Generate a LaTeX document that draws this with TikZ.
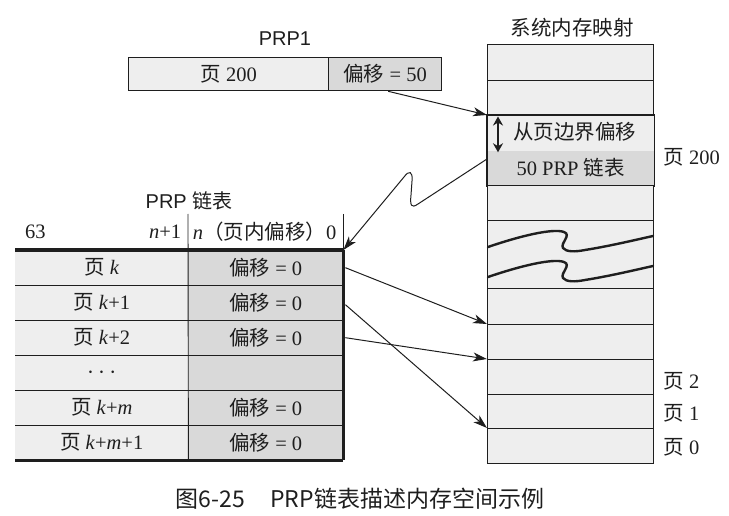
\documentclass[tikz,border=0pt]{standalone}
\usepackage{fontspec}
\setmainfont{Liberation Serif}
\setsansfont{Liberation Sans}
\newfontfamily\cjk{Noto Sans CJK SC}
\usetikzlibrary{arrows.meta,calc}
\definecolor{lightg}{HTML}{EEEEEE}
\definecolor{midg}{HTML}{D9D9D9}
\definecolor{ink}{HTML}{1E1E1E}
\begin{document}
\begin{tikzpicture}[x=1pt,y=-1pt,
  txt/.style={font=\fontsize{20.5}{23}\selectfont, text=ink, inner sep=0pt},
  hdr/.style={font=\sffamily\fontsize{20}{23}\selectfont, text=ink, inner sep=0pt},
  cell/.style={anchor=north west, inner sep=0pt, font=\fontsize{20.5}{23}\selectfont, text=ink},
  memrow/.style={cell, draw=ink, line width=1.3pt, fill=lightg, minimum width=166pt},
  arr/.style={draw=ink, line width=1pt, -{Stealth[length=14pt,width=9pt,inset=4pt]}},
  thin/.style={draw=ink, line width=0.9pt},
  sep/.style={draw=ink, line width=1.5pt},
  thick/.style={draw=ink, line width=3pt},
  wave/.style={draw=ink, line width=2.4pt, line cap=round}
]
\useasboundingbox (0,0) rectangle (729,516);

% ---------- PRP1 ----------
\node[hdr] (t1) at (285,39) {PRP1};
\node[cell, draw=ink, line width=1.3pt, fill=lightg, minimum width=200pt, minimum height=33pt] (p1) at (128,57) {{\cjk 页}~200};
\node[cell, draw=ink, line width=1.3pt, fill=midg, minimum width=113pt, minimum height=33pt] (p2) at (328,57) {{\cjk 偏移} = 50};

% ---------- memory map ----------
\node[hdr, font=\cjk\fontsize{20.5}{23}\selectfont] (t3) at (572,28) {系统内存映射};
\node[memrow, minimum height=36pt] (m1) at (487,44) {};
\node[memrow, minimum height=35pt] (m2) at (487,80) {};
\node[memrow, draw=none, minimum height=35pt] (m3) at (487,115) {};
\node[memrow, draw=none, fill=midg, minimum height=35pt] (m4) at (487,150) {};
\draw[draw=ink, line width=1.3pt] (m3.north west) rectangle (m4.south east);
\node[memrow, minimum height=35pt] (m5) at (487,185) {};
\node[memrow, minimum height=68pt] (m6) at (487,220) {};
\node[memrow, minimum height=36pt] (m7) at (487,288) {};
\node[memrow, minimum height=35pt] (m8) at (487,324) {};
\node[memrow, minimum height=35pt] (m9) at (487,359) {};
\node[memrow, minimum height=34pt] (m10) at (487,394) {};
\node[memrow, minimum height=35pt] (m11) at (487,428) {};

\node[txt] (off) at ($(m3.center)+(4,-1)$) {\cjk 从页边界偏移};
\node[txt] (lst) at (m4.center) {50 PRP {\cjk 链表}};
\draw[draw=ink, line width=2.2pt, {Stealth[length=9pt,width=10pt]}-{Stealth[length=9pt,width=10pt]}]
  ($(m3.north west)+(11,1.5)$) -- ($(m3.south west)+(11,1)$);

\node[txt, anchor=west] (pg200) at ($(m4.north east)+(9,7)$) {{\cjk 页}~200};
\node[txt, anchor=west] (pg2) at ($(m9.east)+(9,4)$) {{\cjk 页}~2};
\node[txt, anchor=west] (pg1) at ($(m10.east)+(9,2)$) {{\cjk 页}~1};
\node[txt, anchor=west] (pg0) at ($(m11.east)+(9,1)$) {{\cjk 页}~0};

% waves in the cut row
\begin{scope}[shift={(m6.north west)}]
\foreach \dy in {0,30}{
  \draw[wave] (1,27+\dy) .. controls (33,16+\dy) and (66,8+\dy) .. (77,12+\dy)
     .. controls (85,15+\dy) and (73,23+\dy) .. (76,28+\dy)
     .. controls (79,32+\dy) and (88,32+\dy) .. (98,30+\dy)
     .. controls (123,26+\dy) and (148,20+\dy) .. (166,16+\dy);
}
\end{scope}

% ---------- PRP list ----------
\node[hdr] (t2) at (189,201) {PRP {\cjk 链表}};
\node[cell, minimum width=173pt, minimum height=36pt] (h1) at (15,214) {};
\node[cell, minimum width=155pt, minimum height=36pt] (h2) at (188,214) {};
\node[txt, anchor=west] (h63) at ($(h1.west)+(10,0)$) {63};
\node[txt, anchor=east] (hn1) at ($(h1.east)+(-7,0)$) {\textit{n}+1};
\node[txt] (hn) at ($(h2.center)+(-1,0)$) {\textit{n}{\cjk （页内偏移）}0};

\node[cell, fill=lightg, minimum width=173pt, minimum height=35pt] (l1a) at (15,250) {{\cjk 页}~\textit{k}};
\node[cell, fill=midg, minimum width=155pt, minimum height=35pt] (l1b) at (188,250) {{\cjk 偏移} = 0};
\node[cell, fill=lightg, minimum width=173pt, minimum height=35pt] (l2a) at (15,285) {{\cjk 页}~\textit{k}+1};
\node[cell, fill=midg, minimum width=155pt, minimum height=35pt] (l2b) at (188,285) {{\cjk 偏移} = 0};
\node[cell, fill=lightg, minimum width=173pt, minimum height=35pt] (l3a) at (15,320) {{\cjk 页}~\textit{k}+2};
\node[cell, fill=midg, minimum width=155pt, minimum height=35pt] (l3b) at (188,320) {{\cjk 偏移} = 0};
\node[cell, fill=lightg, minimum width=173pt, minimum height=35pt] (l4a) at (15,355) {\fontsize{25}{27}\selectfont$\cdots$};
\node[cell, fill=midg, minimum width=155pt, minimum height=35pt] (l4b) at (188,355) {};
\node[cell, fill=lightg, minimum width=173pt, minimum height=35pt] (l5a) at (15,390) {{\cjk 页}~\textit{k}+\textit{m}};
\node[cell, fill=midg, minimum width=155pt, minimum height=35pt] (l5b) at (188,390) {{\cjk 偏移} = 0};
\node[cell, fill=lightg, minimum width=173pt, minimum height=35pt] (l6a) at (15,425) {{\cjk 页}~\textit{k}+\textit{m}+1};
\node[cell, fill=midg, minimum width=155pt, minimum height=35pt] (l6b) at (188,425) {{\cjk 偏移} = 0};

\draw[thin] (h2.north west) -- (l6a.south east);
\draw[thin] (h2.north east) -- (h2.south east);
\foreach \r in {1,...,5}{
  \draw[sep] (l\r a.south west) -- (l\r b.south east);
}
\draw[thick] (l1a.north west) -- (l1b.north east);
\draw[thick] (l6a.south west) -- (l6b.south east);
\draw[thick] (l1b.north east) -- (l6b.south east);

% ---------- connectors ----------
\draw[arr] ($(p2.south)+(3,0)$) -- (m3.north west);
\draw[arr] ($(m4.north west)+(0,9)$) -- (418,204)
  .. controls (411,209) and (410,205) .. (411,195) -- (412,181)
  .. controls (413,171) and (409,170) .. (404,177) -- (l1b.north east);
\draw[arr] ($(l1b.east)+(2,0)$) -- (m8.north west);
\draw[arr] ($(l2b.east)+(2,2)$) -- (m11.north west);
\draw[arr] ($(l3b.east)+(2,0)$) -- (m9.north west);

% ---------- caption ----------
\node[font=\cjk\fontsize{23}{27}\selectfont, text=ink, inner sep=0pt] (cap) at (360,499) {图6-25\hspace{1.1em}PRP链表描述内存空间示例};
\end{tikzpicture}
\end{document}
